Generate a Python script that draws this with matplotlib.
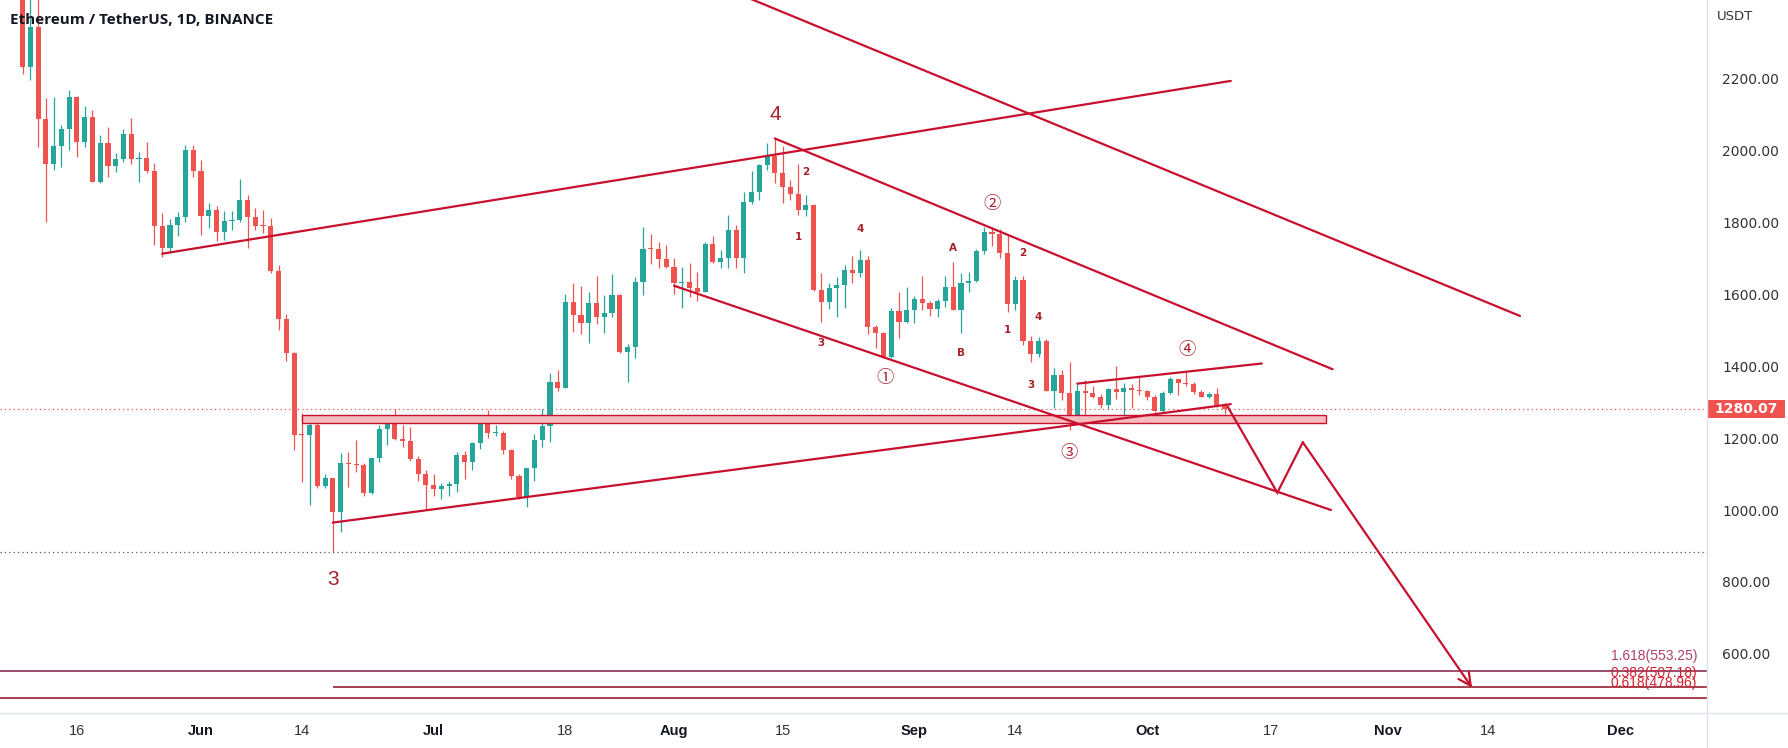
import matplotlib
matplotlib.use("Agg")
import matplotlib.pyplot as plt
import matplotlib.dates as mdates
import pandas as pd
import numpy as np
from matplotlib.patches import Rectangle
from matplotlib.lines import Line2D
from matplotlib.transforms import blended_transform_factory

# ---------------- data ----------------
first_date = "2022-05-09"
opens = [2518, 2230, 2343, 2085, 1960, 2012, 2058, 2148, 2023, 2092, 1912, 2019, 1956, 1975, 2044, 1974, 1979, 1943, 1790, 1727, 1792, 1813, 2000,
         1943, 1818, 1834, 1773, 1804, 1806, 1861, 1813, 1790, 1788, 1665, 1530, 1436, 1212, 1209, 1237, 1067, 1088, 995, 1130, 1127, 1125, 1048, 1144, 1225, 1243, 1196, 1193, 1142, 1099,
         1069, 1058, 1066, 1073, 1153, 1134, 1185, 1240, 1213, 1215, 1167, 1094, 1037, 1116, 1194, 1233, 1356, 1338, 1579, 1542, 1520, 1574, 1535, 1548, 1597, 1440, 1452, 1634, 1727, 1724, 1696,
         1676, 1630, 1633, 1618, 1606, 1738, 1690, 1701, 1778, 1701, 1856, 1882, 1958, 1983, 1935, 1898, 1878, 1833, 1846, 1611, 1577, 1618, 1625, 1667, 1657, 1694, 1509, 1491, 1426, 1553, 1523,
         1555, 1586, 1574, 1557, 1581, 1620, 1555, 1630, 1637, 1719, 1773, 1766, 1715, 1572, 1639, 1470, 1433, 1470, 1331, 1375, 1324, 1247, 1330, 1326, 1313, 1292, 1336, 1327, 1338, 1334,
         1330, 1313, 1276, 1324, 1363, 1352, 1351, 1329, 1315, 1322, 1292]
highs = [2529, 2452, 2450, 2145, 2148, 2069, 2167, 2150, 2122, 2111, 2042, 2065, 1991, 2058, 2090, 1995, 2023, 1965, 1824, 1808, 1829, 2014, 2014,
         1972, 1852, 1845, 1831, 1831, 1919, 1875, 1838, 1833, 1810, 1680, 1545, 1440, 1269, 1250, 1242, 1100, 1090, 1158, 1160, 1194, 1130, 1145, 1236, 1250, 1280, 1236, 1230, 1150, 1110,
         1100, 1075, 1080, 1160, 1165, 1190, 1245, 1278, 1235, 1220, 1170, 1100, 1117, 1210, 1280, 1380, 1390, 1600, 1630, 1623, 1605, 1650, 1597, 1655, 1600, 1462, 1648, 1787, 1768, 1745, 1735,
         1700, 1676, 1685, 1660, 1745, 1760, 1723, 1819, 1792, 1884, 1942, 1960, 2019, 2032, 2012, 1917, 1960, 1875, 1850, 1657, 1630, 1648, 1680, 1705, 1722, 1706, 1515, 1495, 1562, 1606, 1620,
         1595, 1650, 1580, 1585, 1650, 1690, 1659, 1660, 1725, 1787, 1787, 1780, 1765, 1650, 1650, 1484, 1480, 1475, 1394, 1390, 1412, 1350, 1361, 1345, 1323, 1340, 1400, 1352, 1350, 1370,
         1332, 1320, 1330, 1369, 1365, 1384, 1356, 1334, 1327, 1338, 1298]
lows = [2212, 2195, 2008, 1800, 1944, 1954, 2000, 1981, 2009, 1910, 1908, 1926, 1938, 1968, 1960, 1912, 1937, 1736, 1704, 1715, 1762, 1800, 1926,
        1763, 1784, 1747, 1750, 1778, 1800, 1727, 1778, 1770, 1657, 1500, 1415, 1167, 1079, 1014, 1060, 1061, 884, 938, 1065, 1105, 1040, 1045, 1134, 1180, 1195, 1176, 1135, 1080, 1003,
        1040, 1030, 1040, 1050, 1085, 1110, 1170, 1200, 1205, 1155, 1085, 1030, 1009, 1080, 1175, 1190, 1330, 1338, 1495, 1489, 1465, 1518, 1491, 1535, 1435, 1356, 1421, 1597, 1684, 1672, 1672,
        1600, 1562, 1593, 1580, 1605, 1685, 1672, 1671, 1672, 1657, 1850, 1862, 1945, 1907, 1854, 1862, 1819, 1818, 1607, 1523, 1558, 1537, 1560, 1630, 1648, 1490, 1449, 1423, 1422, 1477, 1520,
        1520, 1555, 1540, 1537, 1563, 1555, 1491, 1605, 1633, 1710, 1733, 1700, 1550, 1555, 1458, 1410, 1425, 1331, 1283, 1305, 1222, 1245, 1259, 1310, 1282, 1280, 1308, 1255, 1283, 1320,
        1305, 1271, 1270, 1321, 1320, 1345, 1322, 1314, 1310, 1285, 1267]
closes = [2230, 2343, 2085, 1960, 2012, 2058, 2148, 2023, 2092, 1912, 2019, 1956, 1975, 2044, 1974, 1979, 1943, 1790, 1727, 1792, 1813, 2000, 1943,
          1818, 1834, 1773, 1804, 1806, 1861, 1813, 1790, 1788, 1665, 1530, 1436, 1208, 1209, 1237, 1067, 1088, 995, 1130, 1127, 1125, 1048, 1144, 1225, 1243, 1196, 1193, 1142, 1099, 1069,
          1058, 1066, 1073, 1153, 1134, 1185, 1240, 1213, 1215, 1167, 1094, 1037, 1116, 1194, 1233, 1356, 1338, 1579, 1542, 1520, 1574, 1535, 1548, 1597, 1440, 1452, 1634, 1725, 1724, 1696, 1676,
          1630, 1633, 1618, 1606, 1738, 1690, 1701, 1778, 1701, 1856, 1882, 1958, 1983, 1935, 1898, 1878, 1833, 1846, 1611, 1577, 1618, 1625, 1667, 1657, 1694, 1509, 1491, 1426, 1553, 1523, 1555,
          1586, 1574, 1557, 1581, 1620, 1555, 1630, 1637, 1719, 1773, 1766, 1715, 1572, 1639, 1470, 1433, 1470, 1331, 1375, 1324, 1247, 1330, 1326, 1313, 1292, 1336, 1327, 1338, 1334, 1330,
          1313, 1276, 1324, 1363, 1352, 1351, 1329, 1315, 1322, 1292, 1280.07]

price_ticks = [600, 800, 1000, 1200, 1400, 1600, 1800, 2000, 2200]
date_ticks = ["2022-05-16", "2022-06-01", "2022-06-14", "2022-07-01", "2022-07-18", "2022-08-01", "2022-08-15",
              "2022-09-01", "2022-09-14", "2022-10-01", "2022-10-17", "2022-11-01", "2022-11-14", "2022-12-01"]
date_labels = ["16", "Jun", "14", "Jul", "18", "Aug", "15", "Sep", "14", "Oct", "17", "Nov", "14", "Dec"]
month_labels = {"Jun", "Jul", "Aug", "Sep", "Oct", "Nov", "Dec"}

# drawings (date, price)
upper_rising = [("2022-05-27", 1712), ("2022-10-11 19:00", 2192)]
top_falling = [("2022-08-05", 2472), ("2022-11-18 02:00", 1539)]
channel_upper = [("2022-08-14", 2032), ("2022-10-24 22:00", 1391)]
channel_lower = [("2022-08-01", 1623), ("2022-10-24 17:00", 1000)]
support_rising = [("2022-06-18", 965), ("2022-10-11 19:00", 1294)]
triangle_top = [("2022-09-22", 1351), ("2022-10-15 19:00", 1407)]
zone_dates = ["2022-06-14", "2022-10-24 02:00"]
zone_prices = [1241, 1264]
arrow_path = [("2022-10-11 10:00", 1286), ("2022-10-17 19:00", 1048), ("2022-10-21 02:00", 1188), ("2022-11-11 22:00", 506)]
last_price = 1280.07
low_level = 884
fib_levels = [553.25, 507.18, 478.96]
fib_labels = ["1.618(553.25)", "0.382(507.18)", "0.618(478.96)"]
fib_starts = [None, "2022-06-18", None]

big_labels = [("4", "2022-08-14", 2100), ("3", "2022-06-18", 808)]
small_labels = [("2", "2022-08-18", 1940), ("1", "2022-08-17", 1759), ("3", "2022-08-20", 1465),
                ("4", "2022-08-25", 1781), ("A", "2022-09-06", 1728), ("B", "2022-09-07", 1436),
                ("2", "2022-09-15", 1714), ("1", "2022-09-13", 1500), ("4", "2022-09-17", 1536),
                ("3", "2022-09-16", 1347)]
circled_labels = [("①", "2022-08-28 05:00", 1367), ("②", "2022-09-11", 1849),
                  ("③", "2022-09-21", 1159), ("④", "2022-10-06 05:00", 1444)]

# ---------------- style ----------------
W, H, DPI = 1788, 748, 100
TEAL, RED = "#26a69a", "#ef5350"
LINE = "#c8102e"
LABEL = "#a8202e"
PLOT_RIGHT, PLOT_BOTTOM = 1707, 713

def dn(s):
    return mdates.date2num(pd.Timestamp(s))

fig = plt.figure(figsize=(W / DPI, H / DPI), dpi=DPI)
fig.patch.set_facecolor("white")
ax = fig.add_axes([0, (H - PLOT_BOTTOM) / H, PLOT_RIGHT / W, PLOT_BOTTOM / H])
ax.set_facecolor("white")

ref = dn("2022-06-01")
ax.set_xlim(ref - 25.92, ref + 194.2)
ax.set_ylim(436.1, 2416.7)

# candles
dates = pd.date_range(first_date, periods=len(closes), freq="D")
x = mdates.date2num(dates)
O, Hh, L, C = map(np.asarray, (opens, highs, lows, closes))
up = C >= O
cols = np.where(up, TEAL, RED)
ax.vlines(x, L, Hh, colors=cols, lw=0.9, zorder=2)
body_h = np.maximum(np.abs(C - O), 2.8)
ax.bar(x, body_h, bottom=np.minimum(O, C), width=0.66, color=cols, linewidth=0, zorder=3)

# horizontal levels
ax.axhline(last_price, color=RED, lw=0.9, ls=(0, (1, 2.5)), zorder=1)
ax.axhline(low_level, color="#555555", lw=0.9, ls=(0, (1, 2.5)), zorder=1)

fib_line_cols = ["#7d1f45", "#8b0d1f", "#8b0d1f"]
fib_text_cols = ["#b0406a", "#d3202f", "#d3202f"]
xl = ax.get_xlim()
trans = blended_transform_factory(ax.transAxes, ax.transData)
for lev, lab, st, lc, tc in zip(fib_levels, fib_labels, fib_starts, fib_line_cols, fib_text_cols):
    x0 = xl[0] if st is None else dn(st)
    ax.hlines(lev, x0, xl[1], color=lc, lw=1.1, zorder=4)
    ax.annotate(lab, xy=(1697 / PLOT_RIGHT, lev), xycoords=trans, xytext=(0, 5.5),
                textcoords="offset points", ha="right", va="bottom", fontsize=10,
                color=tc, family=["Liberation Sans", "DejaVu Sans"], zorder=5)

# zone
z0, z1 = dn(zone_dates[0]), dn(zone_dates[1])
ax.add_patch(Rectangle((z0, zone_prices[0]), z1 - z0, zone_prices[1] - zone_prices[0],
                       facecolor="#f4bcbf", edgecolor=LINE, lw=1.0, zorder=4))

# trend lines
for seg in [upper_rising, top_falling, channel_upper, channel_lower, support_rising, triangle_top]:
    xs = [dn(d) for d, _ in seg]
    ys = [p for _, p in seg]
    ax.plot(xs, ys, color=LINE, lw=1.6, solid_capstyle="round", zorder=5)

# arrow path
ax_x = [dn(d) for d, _ in arrow_path]
ax_y = [p for _, p in arrow_path]
ax.plot(ax_x[:3], ax_y[:3], color=LINE, lw=1.6, solid_joinstyle="miter", zorder=5)
ax.annotate("", xy=(ax_x[3], ax_y[3]), xytext=(ax_x[2], ax_y[2]),
            arrowprops=dict(arrowstyle="->,head_length=0.9,head_width=0.45", color=LINE, lw=1.6,
                            shrinkA=0, shrinkB=0), zorder=5)

# wave labels
for t, d, p in big_labels:
    ax.text(dn(d), p, t, ha="center", va="center", fontsize=15, color=LABEL,
            family=["Liberation Sans", "DejaVu Sans"], zorder=6)
for t, d, p in small_labels:
    ax.text(dn(d), p, t, ha="center", va="center", fontsize=7.5, fontweight="bold", color=LABEL,
            family=["DejaVu Sans"], zorder=6)
for t, d, p in circled_labels:
    ax.text(dn(d), p, t, ha="center", va="center", fontsize=12.5, color=LABEL,
            family=["Noto Sans CJK SC", "DejaVu Sans"], zorder=6)

# axes / ticks
for s in ax.spines.values():
    s.set_visible(False)
ax.yaxis.tick_right()
ax.set_yticks(price_ticks)
ax.set_yticklabels([f"{v:.2f}" for v in price_ticks])
ax.tick_params(axis="y", length=0, pad=11, labelsize=10, labelcolor="#333333")
for lab in ax.get_yticklabels():
    lab.set_family(["DejaVu Sans"])

ax.set_xticks([dn(d) for d in date_ticks])
ax.set_xticklabels(date_labels)
ax.tick_params(axis="x", length=0, pad=8, labelsize=10.5, labelcolor="#333333")
for lab in ax.get_xticklabels():
    lab.set_family(["Liberation Sans Narrow", "Liberation Sans", "DejaVu Sans"])
    if lab.get_text() in month_labels:
        lab.set_fontweight("bold")
        lab.set_color("#131722")

# last-price tag
tag_w = 78 / PLOT_RIGHT
ax.add_patch(Rectangle((1.0, last_price - 25), tag_w, 50, transform=trans, clip_on=False,
                       facecolor=RED, edgecolor="none", zorder=7))
ax.text(1.0 + tag_w / 2, last_price, f"{last_price:.2f}", transform=trans, ha="center", va="center",
        fontsize=10, fontweight="bold", color="white", family=["DejaVu Sans"], zorder=8, clip_on=False)

# frame lines
fig.add_artist(Line2D([0, 1], [(H - PLOT_BOTTOM) / H] * 2, transform=fig.transFigure, color="#e0e3eb", lw=1))
fig.add_artist(Line2D([PLOT_RIGHT / W] * 2, [0, 1], transform=fig.transFigure, color="#e0e3eb", lw=1))

fig.text(1717 / W, 1 - 16 / H, "USDT", ha="left", va="center", fontsize=9.5, color="#333333",
         family=["DejaVu Sans"])
fig.text(10 / W, 1 - 20 / H, "Ethereum / TetherUS, 1D, BINANCE", ha="left", va="center",
         fontsize=11, fontweight="bold", color="#131722", family=["Open Sans", "DejaVu Sans"])

fig.savefig("out.png", dpi=DPI, facecolor="white")
